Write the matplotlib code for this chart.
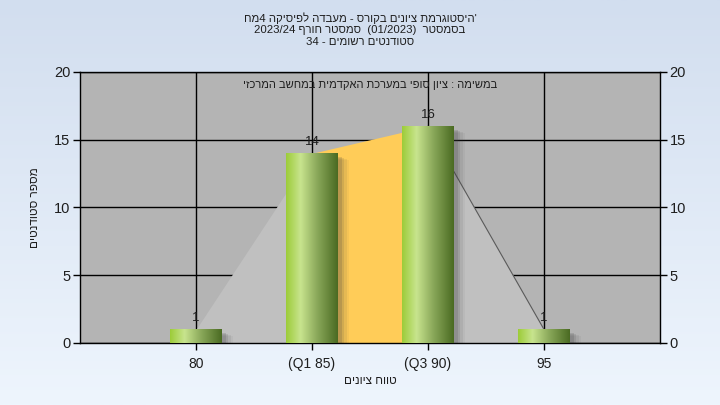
import matplotlib
matplotlib.use("Agg")
import matplotlib.pyplot as plt
from matplotlib.colors import LinearSegmentedColormap
from matplotlib.patches import Rectangle
import numpy as np

# data (hebrew strings are stored in visual order, matplotlib has no bidi)
grades = ["80", "(Q1 85)", "(Q3 90)", "95"]
counts = [1, 14, 16, 1]
q1_idx, q3_idx = 1, 2

title_lines = [
    "חמ4 הקיסיפל הדבעמ - סרוקב םינויצ תמרגוטסיה'",
    "2023/24 ףרוח רטסמס  (01/2023)  רטסמסב",
    "34 - םימושר םיטנדוטס",
]
subtitle = "יזכרמה בשחמב תימדקאה תכרעמב יפוס ןויצ : המישמב"
x_label = "םינויצ חווט"
y_label = "םיטנדוטס רפסמ"
y_ticks = [0, 5, 10, 15, 20]

plt.rcParams["font.family"] = ["Liberation Sans", "DejaVu Sans"]
txt_color = "#1e1e1e"

fig = plt.figure(figsize=(7.2, 4.05), dpi=100)

# light blue gradient behind everything
bg = fig.add_axes([0, 0, 1, 1], zorder=-10)
bg_cmap = LinearSegmentedColormap.from_list("bg", ["#d2deef", "#eef5fd"])
bg.imshow(np.linspace(0, 1, 256).reshape(-1, 1), aspect="auto", cmap=bg_cmap,
          extent=[0, 1, 0, 1])
bg.set_axis_off()

ax = fig.add_axes([80 / 720, 1 - 343 / 405, 580 / 720, 271 / 405])
ax.set_facecolor("#b4b4b4")
ax.set_xlim(-1, 4)
ax.set_ylim(0, 20)
ax.set_axisbelow(True)
ax.grid(True, color="black", linewidth=1)

x = np.arange(len(counts))

# area behind bars, quartile range in yellow
ax.fill_between(x[:q1_idx + 1], counts[:q1_idx + 1], color="#c0c0c0", lw=0, zorder=1)
ax.fill_between(x[q3_idx:], counts[q3_idx:], color="#c0c0c0", lw=0, zorder=1)
ax.fill_between(x[q1_idx:q3_idx + 1], counts[q1_idx:q3_idx + 1], color="#ffcc58",
                lw=0, zorder=1)
ax.plot(x[q3_idx:], counts[q3_idx:], color="#5a5a5a", lw=0.8, zorder=1.5)

# bars with horizontal gradient and a soft shadow
bar_w = 0.44
bar_cmap = LinearSegmentedColormap.from_list(
    "bar", [(0, "#9ccc38"), (0.28, "#c8e48e"), (0.6, "#8aa85a"), (1, "#4a6a22")])
grad = np.linspace(0, 1, 256).reshape(1, -1)
for xi, c in zip(x, counts):
    for k, a in enumerate([0.16, 0.12, 0.08, 0.05]):
        off = 0.02 + 0.01 * k
        ax.add_patch(Rectangle((xi - bar_w / 2 + off * 2, -0.25 - 0.08 * k), bar_w, c,
                               color="#3c3c3c", alpha=a, lw=0, zorder=2))
    rect = Rectangle((xi - bar_w / 2, 0), bar_w, c, facecolor="none", lw=0, zorder=3)
    ax.add_patch(rect)
    im = ax.imshow(grad, cmap=bar_cmap, aspect="auto", zorder=3,
                   extent=[xi - bar_w / 2, xi + bar_w / 2, 0, c])
    im.set_clip_path(rect)
    ax.annotate(str(c), (xi, c), xytext=(0, 4), textcoords="offset points",
                ha="center", va="bottom", fontsize=9.5, color=txt_color, zorder=4)
ax.set_xlim(-1, 4)
ax.set_ylim(0, 20)

ax.set_xticks(x)
ax.set_xticklabels(grades)
ax.set_yticks(y_ticks)
ax.tick_params(axis="both", direction="out", length=5, width=1, colors="black",
               labelcolor=txt_color, labelsize=10.5)
ax.tick_params(axis="y", right=True, labelright=True, pad=2)
ax.tick_params(axis="x", pad=5, labelsize=10)
for s in ax.spines.values():
    s.set_color("black")
    s.set_linewidth(1)

ax.set_xlabel(x_label, fontsize=8.5, color=txt_color)
ax.xaxis.set_label_coords(0.5, -0.118)
ax.set_ylabel(y_label, fontsize=8.5, color=txt_color)
ax.yaxis.set_label_coords(-0.068, 0.5)

ax.text(0.5, 0.952, subtitle, transform=ax.transAxes, ha="center", va="center",
        fontsize=8, color=txt_color, zorder=5)

for i, line in enumerate(title_lines):
    fig.text(0.5, 1 - (18 + 12 * i) / 405, line, ha="center", va="center",
             fontsize=8.2, color=txt_color)

fig.savefig("out.png", dpi=100)
